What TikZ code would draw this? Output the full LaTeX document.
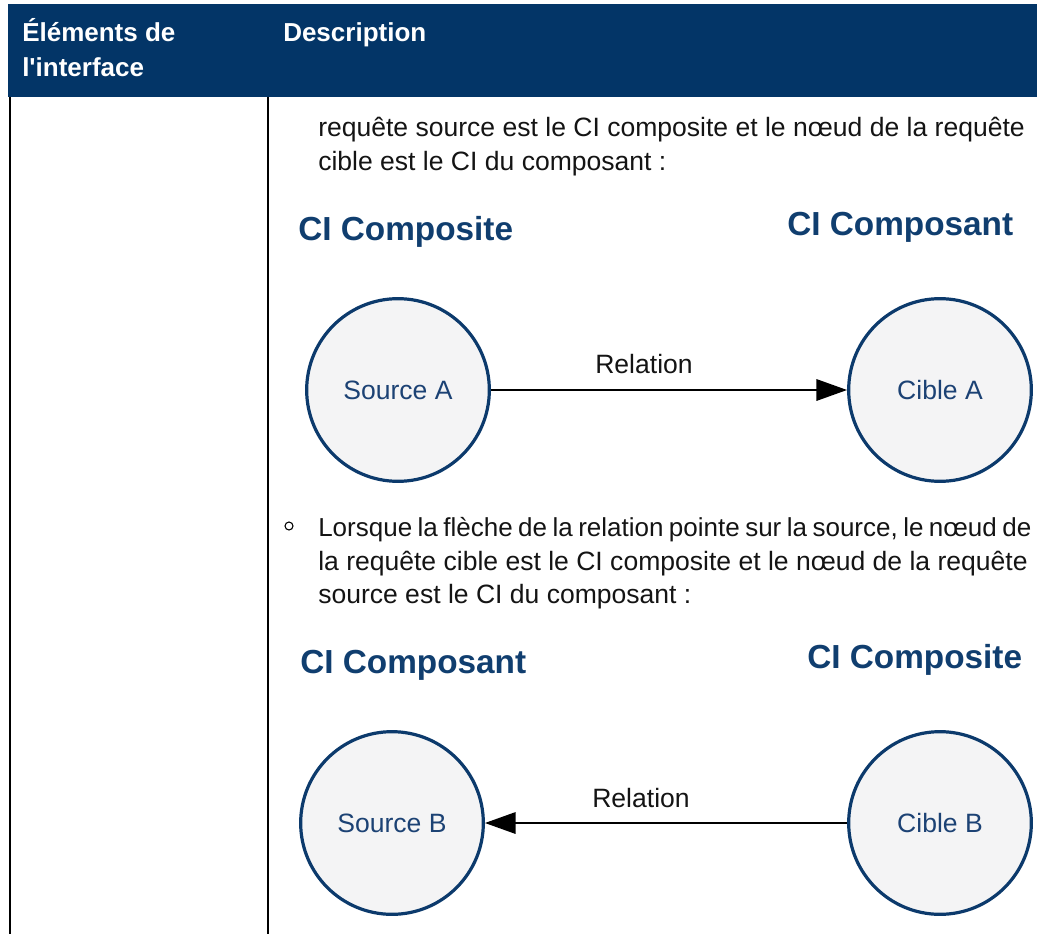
\documentclass[tikz,border=0pt]{standalone}
\usepackage{fontspec}
\setmainfont{Liberation Sans}[Ligatures=TeXOff]
\usetikzlibrary{arrows.meta}
\definecolor{hdrblue}{RGB}{3,53,103}
\definecolor{titleblue}{RGB}{16,62,111}
\definecolor{labelblue}{RGB}{28,66,116}
\definecolor{ringblue}{RGB}{12,58,108}
\definecolor{ringfill}{RGB}{244,244,245}
\definecolor{bodytext}{RGB}{20,20,20}
\newcommand{\mytightsp}{\spaceskip=4.1pt\relax}
\tikzset{
  hdrtext/.style={anchor=base west, inner sep=0, text=white, font=\fontsize{19.5pt}{26pt}\selectfont\bfseries},
  bodyline/.style={anchor=base west, inner sep=0, text=bodytext, font=\fontsize{19.9pt}{25pt}\selectfont},
  tightline/.style={anchor=base west, inner sep=0, text=bodytext, font=\fontsize{19.5pt}{25pt}\selectfont},
  cititle/.style={anchor=base west, inner sep=0, text=titleblue, font=\fontsize{25pt}{30pt}\selectfont\bfseries},
  cinode/.style={circle, draw=ringblue, line width=2.4pt, fill=ringfill, minimum size=137pt, inner sep=0,
                 text=labelblue, font=\fontsize{19.9pt}{24pt}\selectfont},
  rellabel/.style={inner sep=0, text=bodytext, font=\fontsize{19.9pt}{24pt}\selectfont},
  relarrow/.style={draw=black, line width=1.7pt, -{Triangle[length=23pt, width=16pt]}},
  border/.style={draw=black, line width=2pt}
}
\begin{document}
\begin{tikzpicture}[x=0.75pt, y=-0.75pt]
\useasboundingbox (0,0) rectangle (1037,934);
% table
\fill[hdrblue] (8,4) rectangle (1037,97);
\coordinate (lt) at (10,97);
\coordinate (lb) at (10,934);
\coordinate (dt) at (268,97);
\coordinate (db) at (268,934);
\draw[border] (lt) -- (lb);
\draw[border] (dt) -- (db);
% header
\node[hdrtext] (h1) at (22,42) {Éléments de};
\node[hdrtext] (h2) at (22,77) {l'interface};
\node[hdrtext] (h3) at (283,42) {Description};
% body text
\node[bodyline] (t1) at (318,137) {requête source est le CI composite et le nœud de la requête};
\node[bodyline] (t2) at (318,171) {cible est le CI du composant :};
% diagram A
\node[cititle] (ttA1) at (298,240) {CI Composite};
\node[cititle] (ttA2) at (787,235) {CI Composant};
\node[cinode] (srcA) at (398,390) {Source A};
\node[cinode] (cibA) at (940,390) {Cible A};
\node[rellabel] (relA) at (644,364) {Relation};
\draw[relarrow] (srcA) -- (cibA);
% bullet
\node[circle, draw=black, line width=0.8pt, minimum size=6pt, inner sep=0] (bul) at (289,526) {};
\node[tightline] (b1) at (318,536) {\mytightsp Lorsque la flèche de la relation pointe sur la source, le nœud de};
\node[bodyline] (b2) at (318,570) {la requête cible est le CI composite et le nœud de la requête};
\node[bodyline] (b3) at (318,603) {source est le CI du composant :};
% diagram B
\node[cititle] (ttB1) at (300,673) {CI Composant};
\node[cititle] (ttB2) at (807,668) {CI Composite};
\node[cinode] (srcB) at (392,823) {Source B};
\node[cinode] (cibB) at (940,823) {Cible B};
\node[rellabel] (relB) at (641,798) {Relation};
\draw[relarrow] (cibB) -- (srcB);
\end{tikzpicture}
\end{document}
